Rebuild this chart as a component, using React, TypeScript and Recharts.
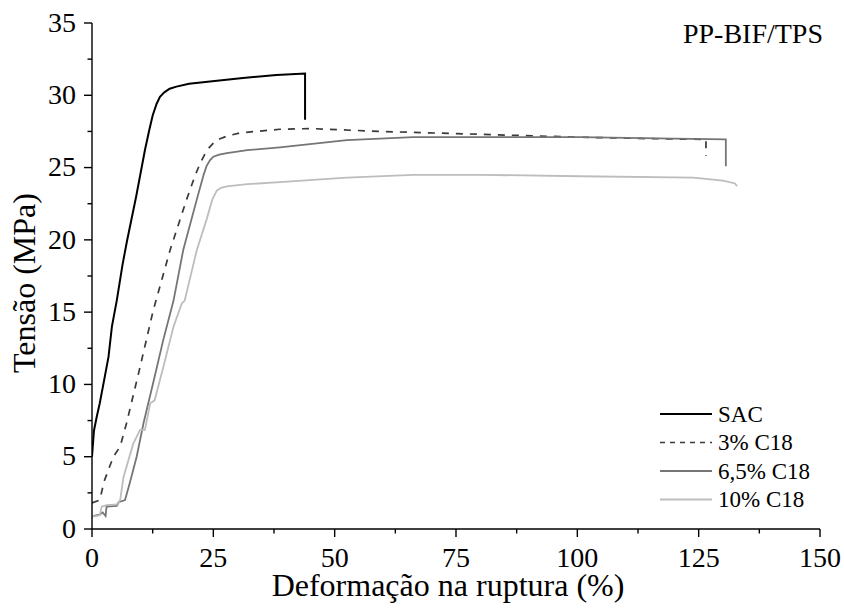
import React from 'react';
import { LineChart, Line, XAxis, YAxis, Legend } from 'recharts';

// Strain (%) / stress (MPa) pairs for each formulation
const sacStrain = [0, 0.4, 1.0, 1.6, 2.5, 3.4, 4.1, 5.1, 6.3, 7.2, 9.1, 10.9, 11.8, 12.5, 13.3, 14.0, 14.9, 16.0, 17.4, 20.0, 24.3, 31.1, 38.0, 43.9, 43.9];
const sacStress = [5.0, 6.8, 7.8, 8.7, 10.3, 11.9, 14.0, 15.8, 18.3, 19.9, 23.0, 26.2, 27.6, 28.6, 29.4, 29.9, 30.2, 30.45, 30.6, 30.8, 30.95, 31.2, 31.4, 31.5, 28.3];

const c3Strain = [0, 1.6, 2.5, 4.4, 5.8, 7.1, 9.9, 12.6, 16.1, 19.5, 21.3, 22.3, 23.2, 24.2, 25.3, 26.4, 28.0, 30.5, 38.7, 45.0, 59.3, 80.0, 100.6, 115.0, 126.5, 126.5];
const c3Stress = [1.8, 2.0, 3.3, 5.0, 5.7, 7.3, 11.2, 15.1, 19.3, 22.8, 24.5, 25.3, 25.9, 26.4, 26.8, 27.0, 27.2, 27.4, 27.65, 27.7, 27.5, 27.3, 27.1, 27.0, 26.95, 25.8];

const c65Strain = [0, 0.8, 1.6, 2.2, 2.8, 3.0, 5.1, 5.5, 6.8, 7.8, 9.2, 10.6, 12.6, 14.7, 16.8, 18.8, 21.6, 23.0, 23.6, 24.3, 25.0, 26.2, 27.8, 32.0, 38.7, 52.5, 66.2, 80.0, 100.6, 120.0, 130.6, 130.6];
const c65Stress = [0.85, 0.95, 1.0, 1.15, 0.9, 1.55, 1.6, 1.85, 2.0, 3.2, 5.0, 7.3, 10.1, 13.1, 15.8, 19.3, 22.8, 24.5, 25.1, 25.5, 25.75, 25.9, 26.0, 26.2, 26.4, 26.9, 27.1, 27.1, 27.1, 27.0, 26.95, 25.1];

const c10Strain = [0, 1.0, 1.6, 2.0, 3.0, 5.1, 5.8, 6.5, 8.5, 9.9, 10.9, 12.0, 12.9, 14.7, 16.8, 18.5, 19.1, 21.6, 23.6, 24.8, 25.7, 26.6, 27.8, 32.0, 38.7, 52.5, 66.2, 80.0, 100.6, 123.9, 130.0, 132.5, 132.9];
const c10Stress = [0.85, 0.9, 0.95, 1.55, 1.65, 1.7, 2.0, 3.6, 5.9, 6.85, 6.85, 8.7, 8.9, 11.2, 14.0, 15.6, 15.8, 19.3, 21.4, 22.8, 23.4, 23.6, 23.7, 23.85, 24.0, 24.3, 24.5, 24.5, 24.4, 24.3, 24.1, 23.9, 23.7];

const xTicks = [0, 12.5, 25, 37.5, 50, 62.5, 75, 87.5, 100, 112.5, 125, 137.5, 150];
const yTicks = [0, 2.5, 5, 7.5, 10, 12.5, 15, 17.5, 20, 22.5, 25, 27.5, 30, 32.5, 35];

const seriesNames = ['SAC', '3% C18', '6,5% C18', '10% C18'];
const chartTitle = 'PP-BIF/TPS';
const xTitle = 'Deformação na ruptura (%)';
const yTitle = 'Tensão (MPa)';

const toPoints = (xs: number[], ys: number[]) => xs.map((x, i) => ({ x, y: ys[i] }));

const sacData = toPoints(sacStrain, sacStress);
const c3Data = toPoints(c3Strain, c3Stress);
const c65Data = toPoints(c65Strain, c65Stress);
const c10Data = toPoints(c10Strain, c10Stress);

const FONT = '"Liberation Serif", "Times New Roman", serif';

const styles = [
  { stroke: '#000000', width: 2, dash: undefined as string | undefined },
  { stroke: '#3a3a3a', width: 1.7, dash: '7 7' },
  { stroke: '#757575', width: 1.8, dash: undefined },
  { stroke: '#bdbdbd', width: 1.8, dash: undefined },
];

const XTick = (props: any) => {
  const { x, y, payload } = props;
  const major = payload.value % 25 === 0;
  return (
    <g>
      <line x1={x} x2={x} y1={y} y2={y + (major ? 8 : 4.5)} stroke="#000" strokeWidth={1.4} />
      {major && (
        <text x={x} y={y + 38} textAnchor="middle" fontFamily={FONT} fontSize={28} fill="#000">
          {payload.value}
        </text>
      )}
    </g>
  );
};

const YTick = (props: any) => {
  const { x, y, payload } = props;
  const major = payload.value % 5 === 0;
  return (
    <g>
      <line x1={x - (major ? 8 : 4.5)} x2={x} y1={y} y2={y} stroke="#000" strokeWidth={1.4} />
      {major && (
        <text x={x - 16} y={y + 8.7} textAnchor="end" fontFamily={FONT} fontSize={28} fill="#000">
          {payload.value}
        </text>
      )}
    </g>
  );
};

const LegendBox = () => (
  <svg width={190} height={125} style={{ display: 'block' }}>
    {seriesNames.map((name, i) => {
      const cy = 19 + i * 28.5;
      const s = styles[i];
      return (
        <g key={name}>
          <line x1={5} x2={57} y1={cy} y2={cy} stroke={s.stroke} strokeWidth={s.width} strokeDasharray={s.dash ? '5 5' : undefined} />
          <text x={63} y={cy + 7.6} fontFamily={FONT} fontSize={23} fill="#000">
            {name}
          </text>
        </g>
      );
    })}
  </svg>
);

export default function App() {
  const datasets = [sacData, c3Data, c65Data, c10Data];
  return (
    <div style={{ position: 'absolute', left: 0, top: 0, width: 844, height: 610, background: '#fff' }}>
      <LineChart width={844} height={610} margin={{ top: 23, right: 24, left: 0, bottom: 0 }}>
        <XAxis
          dataKey="x"
          type="number"
          domain={[0, 150]}
          ticks={xTicks}
          interval={0}
          height={81}
          tickSize={0}
          tickMargin={0}
          tickLine={false}
          tick={<XTick />}
          axisLine={{ stroke: '#000', strokeWidth: 1.4 }}
          allowDataOverflow
        />
        <YAxis
          type="number"
          domain={[0, 35]}
          ticks={yTicks}
          interval={0}
          width={92}
          tickSize={0}
          tickMargin={0}
          tickLine={false}
          tick={<YTick />}
          axisLine={{ stroke: '#000', strokeWidth: 1.4 }}
          allowDataOverflow
        />
        {datasets.map((d, i) => (
          <Line
            key={seriesNames[i]}
            data={d}
            dataKey="y"
            name={seriesNames[i]}
            type="linear"
            stroke={styles[i].stroke}
            strokeWidth={styles[i].width}
            strokeDasharray={styles[i].dash}
            dot={false}
            activeDot={false}
            isAnimationActive={false}
          />
        ))}
        <Legend
          layout="vertical"
          align="center"
          verticalAlign="middle"
          content={<LegendBox />}
          wrapperStyle={{ position: 'absolute', left: 655, top: 395, width: 190, height: 125 }}
        />
        <text x={823} y={43} textAnchor="end" fontFamily={FONT} fontSize={28} fill="#000">
          {chartTitle}
        </text>
        <text x={448} y={596} textAnchor="middle" fontFamily={FONT} fontSize={32} fill="#000">
          {xTitle}
        </text>
        <text
          x={35}
          y={283}
          textAnchor="middle"
          fontFamily={FONT}
          fontSize={32}
          fill="#000"
          transform="rotate(-90, 35, 283)"
        >
          {yTitle}
        </text>
      </LineChart>
    </div>
  );
}
